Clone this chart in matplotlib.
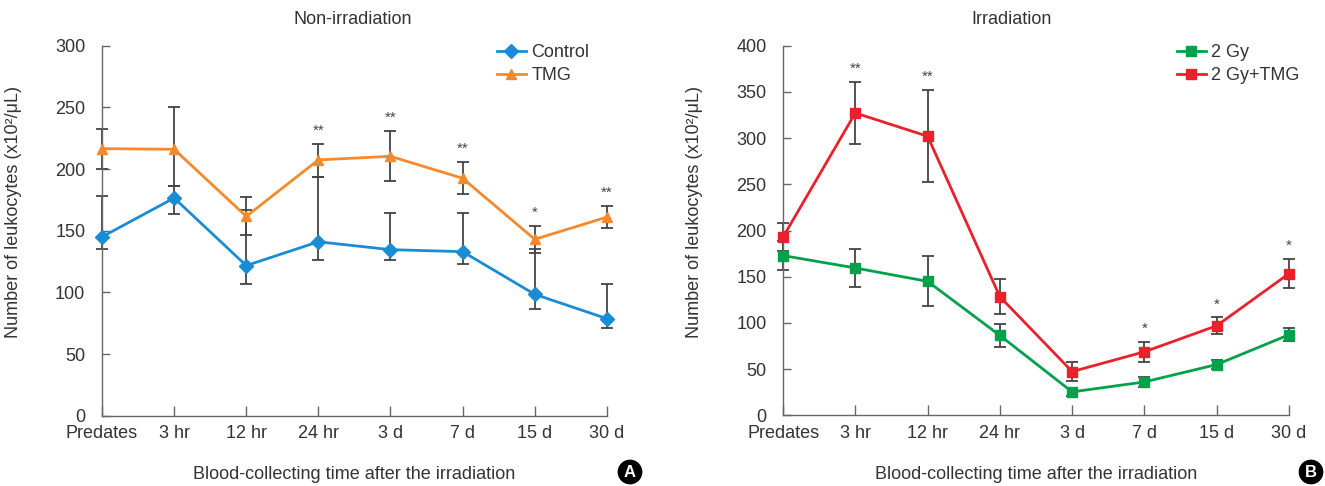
import matplotlib
matplotlib.use("Agg")
import matplotlib.pyplot as plt

plt.rcParams['font.family'] = ['Liberation Sans', 'DejaVu Sans']

# --- data ---
time_labels = ['Predates', '3 hr', '12 hr', '24 hr', '3 d', '7 d', '15 d', '30 d']

# panel A (non-irradiation)
control = [145, 176.5, 121.7, 141, 134.6, 133, 98.4, 78.7]
control_err_lo = [10, 13, 15, 15, 8.6, 10, 12, 8]
control_err_hi = [33, 9.5, 45, 52.6, 30, 31, 36.6, 28]
tmg = [216.5, 216, 161.6, 207.4, 210.3, 192.5, 143, 161]
tmg_err_lo = [16.5, 30, 15, 14, 19.7, 13, 11, 9]
tmg_err_hi = [16, 34, 16, 13, 20.6, 13.5, 11, 9]
stars_a = ['', '', '', '**', '**', '**', '*', '**']

# panel B (irradiation)
gy2 = [172.9, 159.5, 145, 86.5, 25.4, 36.2, 55, 87.2]
gy2_err = [16, 21, 27, 12, 4, 5, 5, 7]
gy2_tmg = [193, 327.2, 302, 128.4, 47.4, 68.8, 97, 153.4]
gy2_tmg_err = [15, 34, 50, 19, 10, 10.5, 9, 16]
stars_b = ['', '**', '**', '', '', '*', '*', '*']

TXT = '#333333'
ERR = '#444444'
FS = 13


def style_axes(ax, ymax, ystep):
    ax.set_xlim(0, len(time_labels) - 1)
    ax.set_ylim(0, ymax)
    ax.set_yticks(range(0, ymax + 1, ystep))
    ax.set_xticks(range(len(time_labels)))
    ax.set_xticklabels(time_labels)
    for s in ['top', 'right']:
        ax.spines[s].set_visible(False)
    for s in ['left', 'bottom']:
        ax.spines[s].set_color('#666666')
        ax.spines[s].set_linewidth(1.0)
        ax.spines[s].set_clip_on(False)
    ax.tick_params(axis='x', direction='in', length=7, width=1, color='#666666',
                   labelsize=FS, labelcolor=TXT, pad=7)
    ax.tick_params(axis='y', direction='in', length=6, width=1, color='#666666',
                   labelsize=FS, labelcolor=TXT, pad=12)
    ax.set_ylabel('Number of leukocytes (x10²/μL)', fontsize=FS, color=TXT)
    ax.yaxis.set_label_coords(-0.158, 0.55)
    ax.set_xlabel('Blood-collecting time after the irradiation', fontsize=FS, color=TXT)
    ax.xaxis.set_label_coords(0.5, -0.136)


def draw_series(ax, vals, lo, hi, color, marker, msize, label):
    x = list(range(len(vals)))
    ax.errorbar(x, vals, yerr=[lo, hi], fmt='none', ecolor=ERR, elinewidth=1.3,
                capsize=4, capthick=1.3, zorder=2, clip_on=False)
    ax.plot(x, vals, color=color, marker=marker, markersize=msize, linewidth=2,
            label=label, zorder=3, clip_on=False)


def draw_stars(ax, vals, hi, stars):
    for i, s in enumerate(stars):
        if s:
            ax.annotate(s, (i, vals[i] + hi[i]), xytext=(0, 6.5), textcoords='offset points',
                        ha='center', va='baseline', fontsize=11, color='#444444')


fig = plt.figure(figsize=(13.25, 4.86), dpi=100)

# panel A
ax1 = fig.add_axes([0.077, 0.1447, 0.381, 0.7613])
style_axes(ax1, 300, 50)
draw_series(ax1, control, control_err_lo, control_err_hi, '#1a8cd4', 'D', 7, 'Control')
draw_series(ax1, tmg, tmg_err_lo, tmg_err_hi, '#f5892b', '^', 7, 'TMG')
draw_stars(ax1, tmg, tmg_err_hi, stars_a)
ax1.legend(loc='upper left', bbox_to_anchor=(497 / 1325, 1 - 44 / 486),
           bbox_transform=fig.transFigure, frameon=False, fontsize=FS,
           handlelength=1.6, handletextpad=0.3, labelspacing=0.35,
           borderpad=0, borderaxespad=0, labelcolor=TXT)
fig.text(353 / 1325, 1 - 20 / 486, 'Non-irradiation', ha='center', va='center',
         fontsize=FS, color=TXT)

# panel B
ax2 = fig.add_axes([0.591, 0.1453, 0.3818, 0.7607])
style_axes(ax2, 400, 50)
draw_series(ax2, gy2, gy2_err, gy2_err, '#00a14b', 's', 7, '2 Gy')
draw_series(ax2, gy2_tmg, gy2_tmg_err, gy2_tmg_err, '#e8212b', 's', 7, '2 Gy+TMG')
draw_stars(ax2, gy2_tmg, gy2_tmg_err, stars_b)
ax2.legend(loc='upper left', bbox_to_anchor=(1177 / 1325, 1 - 44 / 486),
           bbox_transform=fig.transFigure, frameon=False, fontsize=FS,
           handlelength=1.6, handletextpad=0.3, labelspacing=0.35,
           borderpad=0, borderaxespad=0, labelcolor=TXT)
fig.text(1012 / 1325, 1 - 20 / 486, 'Irradiation', ha='center', va='center',
         fontsize=FS, color=TXT)

# panel badges
for xp, letter in [(630, 'A'), (1311, 'B')]:
    fig.text(xp / 1325, 1 - 472 / 486, letter, ha='center', va='center', fontsize=12,
             fontweight='bold', color='white',
             bbox=dict(boxstyle='circle,pad=0.25', fc='black', ec='black'))

fig.savefig('out.png', dpi=100)
